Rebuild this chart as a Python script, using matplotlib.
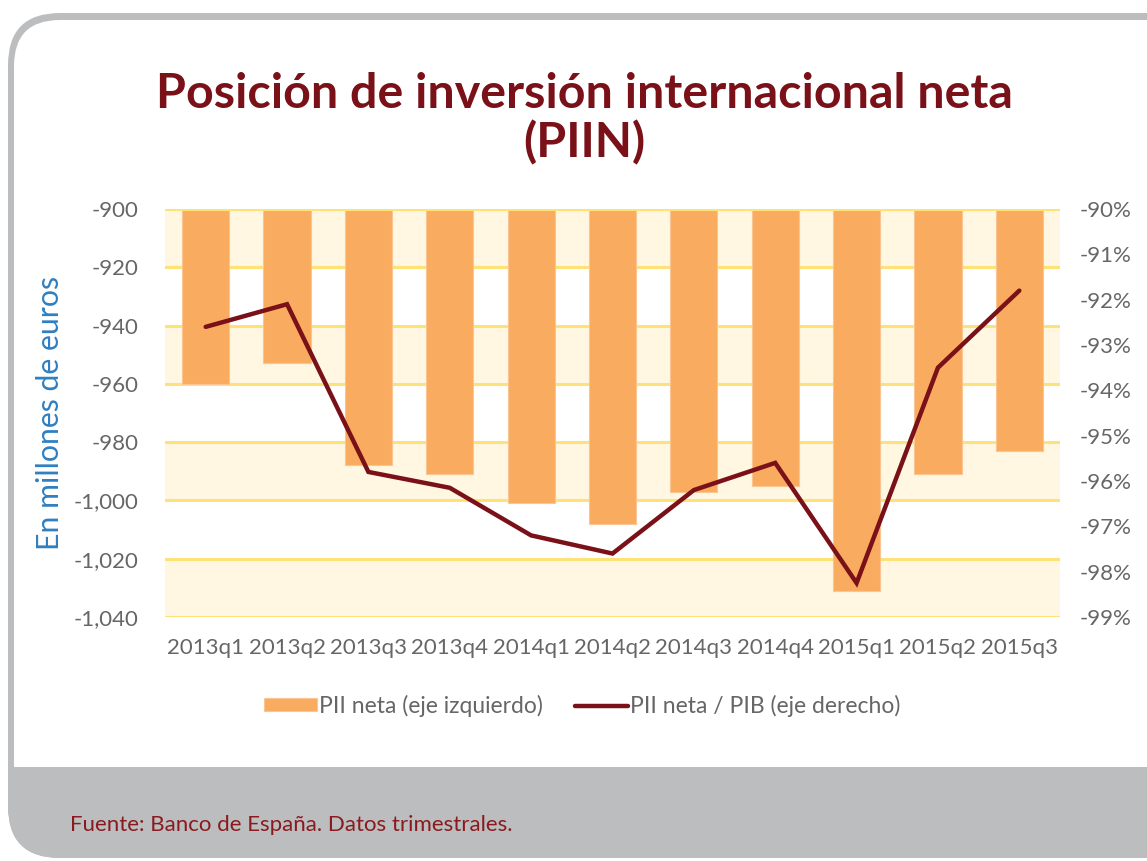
import numpy as np
import matplotlib
matplotlib.use("Agg")
import matplotlib.pyplot as plt
from matplotlib.patches import FancyBboxPatch, Rectangle
from matplotlib.transforms import IdentityTransform
from matplotlib.ticker import FuncFormatter

plt.rcParams['font.family'] = ['Lato', 'DejaVu Sans']

# data
quarters = ['2013q1', '2013q2', '2013q3', '2013q4', '2014q1', '2014q2',
            '2014q3', '2014q4', '2015q1', '2015q2', '2015q3']
pii_neta = [-960, -953, -988, -991, -1001, -1008, -997, -995, -1031, -991, -983]   # millones de euros
pii_pib = [-92.6, -92.1, -95.8, -96.15, -97.2, -97.6, -96.2, -95.6, -98.25, -93.5, -91.8]  # %

left_ticks = list(range(-1040, -899, 20))
right_ticks = list(range(-99, -89, 1))

W, H = 1147, 861
dark_red = '#7a1018'
bar_col = '#f9ac5f'
band_col = '#fff7e1'
grid_col = '#ffe277'
gray_txt = '#666666'
frame_col = '#bcbdbf'

fig = plt.figure(figsize=(W / 100, H / 100), dpi=100)

# frame: gray rounded box, white inner box, gray footer
def px(y):
    return H - y

outer = FancyBboxPatch((8, px(858)), 1300, 858 - 13,
                       boxstyle="round,pad=0,rounding_size=52",
                       transform=IdentityTransform(), fc=frame_col, ec='none', zorder=-3)
fig.add_artist(outer)
inner = FancyBboxPatch((14, px(830)), 1300, 830 - 20,
                       boxstyle="round,pad=0,rounding_size=46",
                       transform=IdentityTransform(), fc='white', ec='none', zorder=-2)
fig.add_artist(inner)
footer = Rectangle((0, 0), 1400, px(767), transform=IdentityTransform(),
                   fc=frame_col, ec='none', zorder=-1)
footer.set_clip_path(outer)
fig.add_artist(footer)

ax = fig.add_axes([165 / W, 1 - 617 / H, (1060 - 165) / W, (617 - 209) / H])
ax.set_facecolor('none')
x = np.arange(len(quarters))

# alternating bands and grid lines
for i, lo in enumerate(left_ticks[:-1]):
    if (len(left_ticks) - 2 - i) % 2 == 0:
        ax.axhspan(lo, lo + 20, color=band_col, lw=0, zorder=0)
for t in left_ticks:
    ax.axhline(t, color=grid_col, lw=2.2, zorder=1)

ax.bar(x, pii_neta, width=0.58, color=bar_col, edgecolor='#fbc593', lw=0.8, zorder=2,
       label='PII neta (eje izquierdo)')
ax.axhline(-900, color=grid_col, lw=2.2, zorder=2.5)

ax.set_xlim(-0.5, len(quarters) - 0.5)
ax.set_ylim(-1040, -900)
ax.set_yticks(left_ticks)
ax.yaxis.set_major_formatter(FuncFormatter(lambda v, p: f'{int(v):,}'))
ax.set_xticks(x)
ax.set_xticklabels(quarters)
for s in ax.spines.values():
    s.set_visible(False)
ax.tick_params(axis='both', length=0, labelsize=16, colors=gray_txt)
ax.tick_params(axis='y', pad=19)
ax.tick_params(axis='x', pad=15)
ax.set_ylabel('En millones de euros', fontsize=21.8, color='#2f7fc1', labelpad=7)

ax2 = ax.twinx()
ax2.plot(x, pii_pib, color=dark_red, lw=3.2, solid_capstyle='round', solid_joinstyle='miter',
         zorder=3, label='PII neta / PIB (eje derecho)')
ax2.set_ylim(-99, -90)
ax2.set_yticks(right_ticks)
ax2.yaxis.set_major_formatter(FuncFormatter(lambda v, p: f'{int(round(v))}%'))
for s in ax2.spines.values():
    s.set_visible(False)
ax2.tick_params(axis='y', length=0, labelsize=16, colors=gray_txt, pad=14)

h1, l1 = ax.get_legend_handles_labels()
h2, l2 = ax2.get_legend_handles_labels()
leg = fig.legend(h1 + h2, l1 + l2, loc='center', bbox_to_anchor=(582 / W, 1 - 706 / H),
                 ncol=2, frameon=False, fontsize=16.5, handlelength=2.3, handleheight=0.5,
                 handletextpad=0.1, columnspacing=1.4)
for t in leg.get_texts():
    t.set_color(gray_txt)

fig.text(584 / W, 1 - 119 / H, 'Posición de inversión internacional neta\n(PIIN)',
         ha='center', va='center', fontsize=34.8, fontweight='bold', color=dark_red,
         linespacing=1.12)

fig.text(70 / W, 1 - 825 / H, 'Fuente: Banco de España. Datos trimestrales.',
         ha='left', va='center', fontsize=16, color='#8a1a1f')

fig.savefig('out.png', dpi=100)
